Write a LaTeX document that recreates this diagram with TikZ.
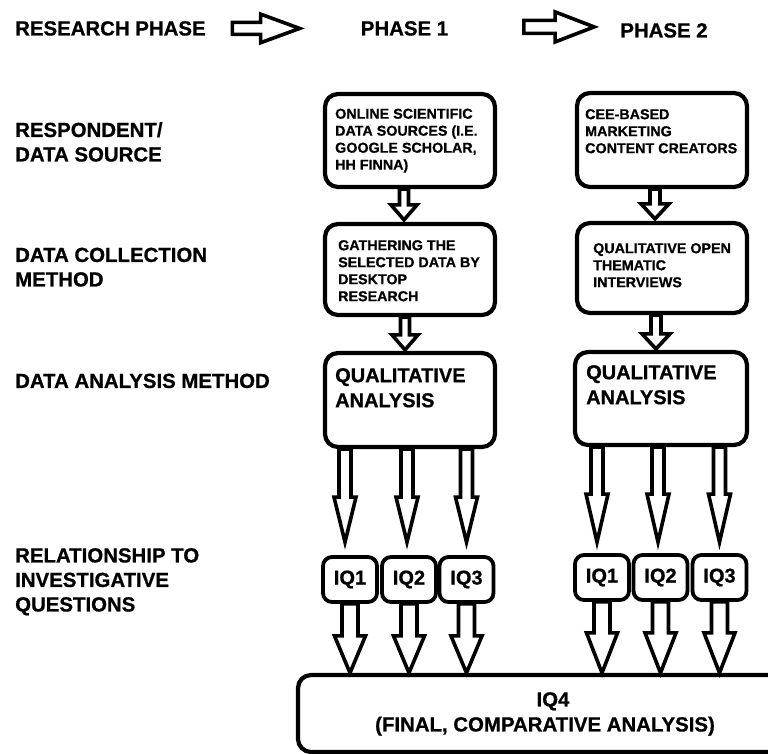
\documentclass[tikz,border=0pt]{standalone}
\usepackage{fontspec}
\setmainfont{Liberation Sans}[BoldFeatures={FakeBold=0.8}]
\usetikzlibrary{calc,backgrounds}
\tikzset{
  box/.style={draw, line width=4.2pt, rounded corners=13pt, inner sep=0pt},
  iqbox/.style={draw, line width=3.8pt, rounded corners=9pt, minimum width=54pt, minimum height=45pt, inner sep=0pt, font=\fontsize{20}{24}\selectfont\bfseries},
  rowlabel/.style={anchor=north west, inner sep=0pt, align=left, font=\fontsize{20.4}{24.5}\selectfont\bfseries},
  phaselabel/.style={anchor=north, inner sep=0pt, font=\fontsize{20.4}{24.5}\selectfont\bfseries},
  boxtext/.style={anchor=north west, inner sep=0pt, align=left, font=\fontsize{14.3}{17}\selectfont\bfseries},
  bigtext/.style={anchor=north west, inner sep=0pt, align=left, font=\fontsize{20}{25}\selectfont\bfseries},
  blockarrow/.style={draw, line width=3.6pt, fill=white, line join=miter},
}
% #1 start (x and top y), #2 tip (y used), #3 shaft half width, #4 head half width, #5 head length
\newcommand{\blockdown}[5]{%
  \draw[blockarrow] let \p1=(#1), \p2=(#2) in
    (\x1-#3pt,\y1) -- (\x1-#3pt,\y2+#5pt) -- (\x1-#4pt,\y2+#5pt) -- (\x1,\y2)
    -- (\x1+#4pt,\y2+#5pt) -- (\x1+#3pt,\y2+#5pt) -- (\x1+#3pt,\y1) -- cycle;}
\newcommand{\blockright}[5]{%
  \draw[blockarrow] let \p1=(#1), \p2=(#2) in
    (\x1,\y1+#3pt) -- (\x2-#5pt,\y1+#3pt) -- (\x2-#5pt,\y1+#4pt) -- (\x2,\y1)
    -- (\x2-#5pt,\y1-#4pt) -- (\x2-#5pt,\y1-#3pt) -- (\x1,\y1-#3pt) -- cycle;}
\begin{document}
\begin{tikzpicture}[x=1pt,y=-1pt]
\useasboundingbox (0,0) rectangle (768,753);
\clip (0,0) rectangle (768,753);

% header
\node[rowlabel] (rp) at (15,21) {RESEARCH PHASE};
\node[phaselabel] (p1) at (404.5,21) {PHASE 1};
\node[phaselabel] (p2) at (664,23) {PHASE 2};

% row labels
\node[rowlabel] (l1) at (15,122) {RESPONDENT/\\DATA SOURCE};
\node[rowlabel] (l2) at (15,247.5) {DATA COLLECTION\\METHOD};
\node[rowlabel] (l3) at (15,373.5) {DATA ANALYSIS METHOD};
\node[rowlabel] (l4) at (15,548) {RELATIONSHIP TO\\INVESTIGATIVE\\QUESTIONS};

% phase 1 boxes
\node[box, minimum width=170pt, minimum height=93pt] (s1) at (410,140.5) {};
\node[box, minimum width=170pt, minimum height=91pt] (s2) at (410,269.5) {};
\node[box, minimum width=170pt, minimum height=94pt] (qa1) at (410,400) {};
\node[boxtext] at (335,108.5) {ONLINE SCIENTIFIC\\DATA SOURCES (I.E.\\GOOGLE SCHOLAR,\\HH FINNA)};
\node[boxtext] at (338,240) {GATHERING THE\\SELECTED DATA BY\\DESKTOP\\RESEARCH};
\node[bigtext] at (335,368) {QUALITATIVE\\ANALYSIS};

% phase 2 boxes
\node[box, minimum width=170pt, minimum height=94pt] (t1) at (662,140) {};
\node[box, minimum width=170pt, minimum height=90pt] (t2) at (662,268) {};
\node[box, minimum width=172pt, minimum height=93pt] (qa2) at (661,398.5) {};
\node[boxtext] at (585,109) {CEE-BASED\\MARKETING\\CONTENT CREATORS};
\node[boxtext] at (593,243) {QUALITATIVE OPEN\\THEMATIC\\INTERVIEWS};
\node[bigtext] at (586,365) {QUALITATIVE\\ANALYSIS};

% IQ boxes
\node[iqbox] (iq11) at (350,579.5) {IQ1};
\node[iqbox] (iq12) at (409,579.5) {IQ2};
\node[iqbox] (iq13) at (466.5,579.5) {IQ3};
\node[iqbox] (iq21) at (602,577.5) {IQ1};
\node[iqbox] (iq22) at (660.5,577.5) {IQ2};
\node[iqbox] (iq23) at (719.5,577.5) {IQ3};

% final box
\node[box, minimum width=532pt, minimum height=77pt] (iq4) at (564,713.5) {};
\node[anchor=north, inner sep=0pt, align=center, font=\fontsize{20.4}{25}\selectfont\bfseries] at (545,692)
  {\hspace*{16pt}IQ4\\(FINAL, COMPARATIVE ANALYSIS)};

\begin{scope}[on background layer]
  % header arrows
  \blockright{$(rp.east)+(26.5,0)$}{$(p1.west)+(-61,0)$}{6}{14.3}{39}
  \blockright{$(p1.east)+(75.5,-1.5)$}{$(p2.west)+(-26,0)$}{6.5}{15}{39}
  % phase 1 vertical arrows
  \blockdown{$(s1.south)+(-6,0)$}{$(s2.north)+(0,-2)$}{4.5}{13}{15}
  \blockdown{$(s2.south)+(-5,0)$}{$(qa1.north)+(0,-1)$}{4.5}{13}{15}
  % phase 2 vertical arrows
  \blockdown{$(t1.south)+(-7,0)$}{$(t2.north)+(0,-2)$}{5}{14}{15}
  \blockdown{$(t2.south)+(-6,0)$}{$(qa2.north)+(0,-1)$}{5}{14}{15}
  % analysis to IQ arrows
  \blockdown{$(iq11.north |- qa1.south)+(-5,0)$}{$(iq11.north)+(0,-13)$}{6}{11}{45}
  \blockdown{$(iq12.north |- qa1.south)+(-2,0)$}{$(iq12.north)+(0,-13)$}{6}{11}{45}
  \blockdown{$(iq13.north |- qa1.south)+(0,0)$}{$(iq13.north)+(0,-13)$}{6}{11}{45}
  \blockdown{$(iq21.north |- qa2.south)+(-5,0)$}{$(iq21.north)+(0,-11)$}{6}{11}{48}
  \blockdown{$(iq22.north |- qa2.south)+(-2.5,0)$}{$(iq22.north)+(0,-11)$}{6}{11}{48}
  \blockdown{$(iq23.north |- qa2.south)+(0,0)$}{$(iq23.north)+(0,-11)$}{6}{11}{48}
  % IQ to IQ4 arrows
  \blockdown{iq11.south}{iq11.south |- iq4.north}{8}{15.5}{37}
  \blockdown{iq12.south}{iq12.south |- iq4.north}{8}{15.5}{37}
  \blockdown{iq13.south}{iq13.south |- iq4.north}{8}{15.5}{37}
  \blockdown{iq21.south}{iq21.south |- iq4.north}{8}{15.5}{40}
  \blockdown{iq22.south}{iq22.south |- iq4.north}{8}{15.5}{40}
  \blockdown{iq23.south}{iq23.south |- iq4.north}{8}{15.5}{40}
\end{scope}
\end{tikzpicture}
\end{document}
